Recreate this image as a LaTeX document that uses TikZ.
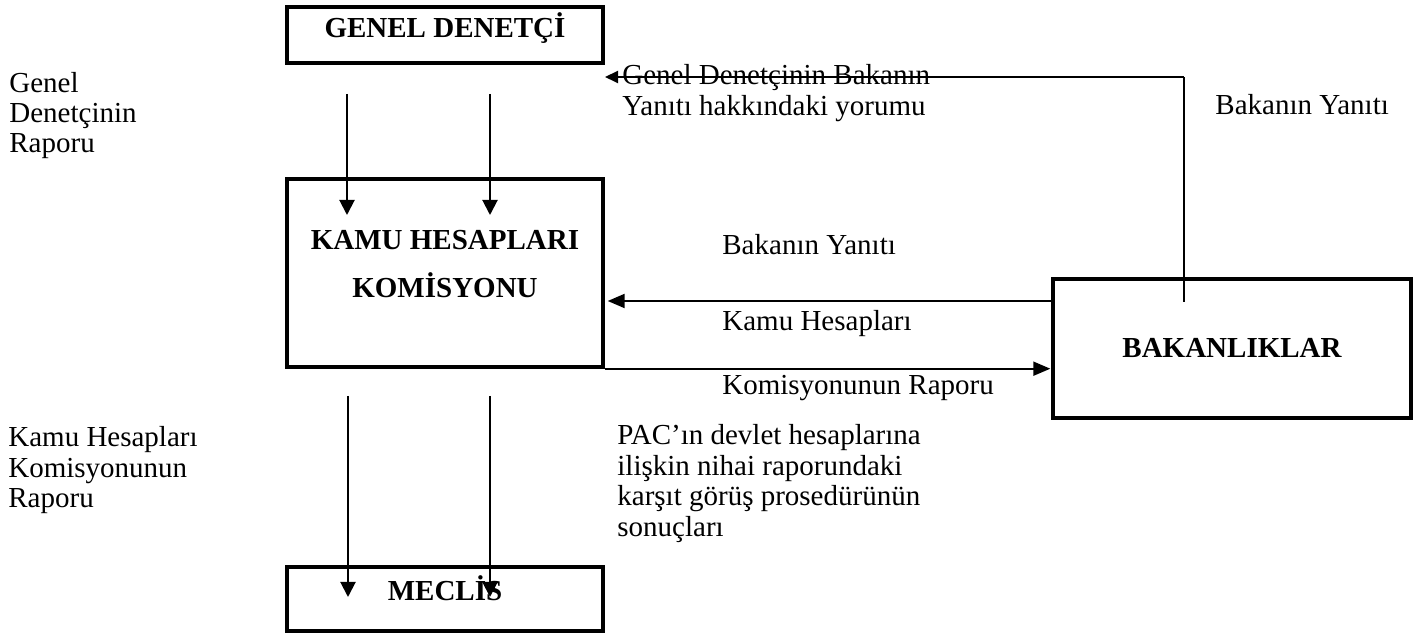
\documentclass[tikz,border=0pt]{standalone}
\usepackage{fontspec}
\setmainfont{Liberation Serif}
\usetikzlibrary{arrows.meta}
\begin{document}
\begin{tikzpicture}[x=0.5pt,y=-0.5pt,
  box/.style={draw, line width=1.7pt, inner sep=0pt},
  txt/.style={font=\fontsize{14.5}{15.2}\selectfont, inner sep=0pt, anchor=base west},
  multi/.style={txt, align=left},
  boldtxt/.style={font=\fontsize{14.5}{15}\selectfont\bfseries, inner sep=0pt, anchor=base},
  arrv/.style={line width=1pt, -{Triangle[length=7.5pt,width=7.5pt]}},
  arrh/.style={line width=1pt, -{Triangle[length=8.5pt,width=7pt]}},
  arrf/.style={line width=1pt, -{Triangle[length=6.5pt,width=6pt]}}]
\useasboundingbox (0,0) rectangle (1420,635);
\fill[white] (0,0) rectangle (1420,635);

% boxes
\node[box, minimum width=158pt, minimum height=28pt] (gd) at (445,35) {};
\node[box, minimum width=158pt, minimum height=94pt] (khk) at (445,273) {};
\node[box, minimum width=179pt, minimum height=69.5pt] (bak) at (1232,348.5) {};
\node[box, minimum width=158pt, minimum height=32pt] (mec) at (445,599) {};

% box texts
\node[boldtxt] (gdt) at (445,38) {GENEL DENETÇİ};
\node[boldtxt] (khk1) at (445,250) {KAMU HESAPLARI};
\node[boldtxt] (khk2) at (445,298) {KOMİSYONU};
\node[boldtxt] (bakt) at (1232,358) {BAKANLIKLAR};

% free text labels (multi-line nodes anchored at the baseline of their last line)
\node[multi] (l1) at (9,153) {Genel\\Denetçinin\\Raporu};
\node[multi] (m1) at (622,115.4) {Genel Denetçinin Bakanın\\Yanıtı hakkındaki yorumu};
\node[txt] (r1) at (1215,115) {Bakanın Yanıtı};
\node[txt] (m2) at (722,255) {Bakanın Yanıtı};
\node[txt] (m3) at (722,331) {Kamu Hesapları};
\node[txt] (m4) at (722,395) {Komisyonunun Raporu};
\node[multi] (l2) at (8,507.8) {Kamu Hesapları\\Komisyonunun\\Raporu};
\node[multi] (m5) at (617,536.2) {PAC’ın devlet hesaplarına\\ilişkin nihai raporundaki\\karşıt görüş prosedürünün\\sonuçları};

% connector ends
\coordinate (a1) at (347,94);  \coordinate (a1e) at (347,215);
\coordinate (a2) at (490,94);  \coordinate (a2e) at (490,215);
\coordinate (b1) at (348,396); \coordinate (b1e) at (348,597);
\coordinate (b2) at (490,396); \coordinate (b2e) at (490,597);
\coordinate (y1) at (0,301);
\coordinate (f0) at (1184,302);
\coordinate (f1) at (1184,77);
\coordinate (f2) at (605,77);

% arrows
\draw[arrv] (a1) -- (a1e);
\draw[arrv] (a2) -- (a2e);
\draw[arrv] (b1) -- (b1e);
\draw[arrv] (b2) -- (b2e);
\draw[arrh, shorten >=1.5pt] (bak.west |- y1) -- (khk.east |- y1);
\draw[arrh, shorten >=0.5pt] (khk.south east) -- (bak.west |- khk.south east);
\draw[line width=0.6pt] (f0) -- (f1);
\draw[arrf] (f1) -- (f2);

\node[boldtxt] (mect) at (445,601) {MECLİS};
\end{tikzpicture}
\end{document}
